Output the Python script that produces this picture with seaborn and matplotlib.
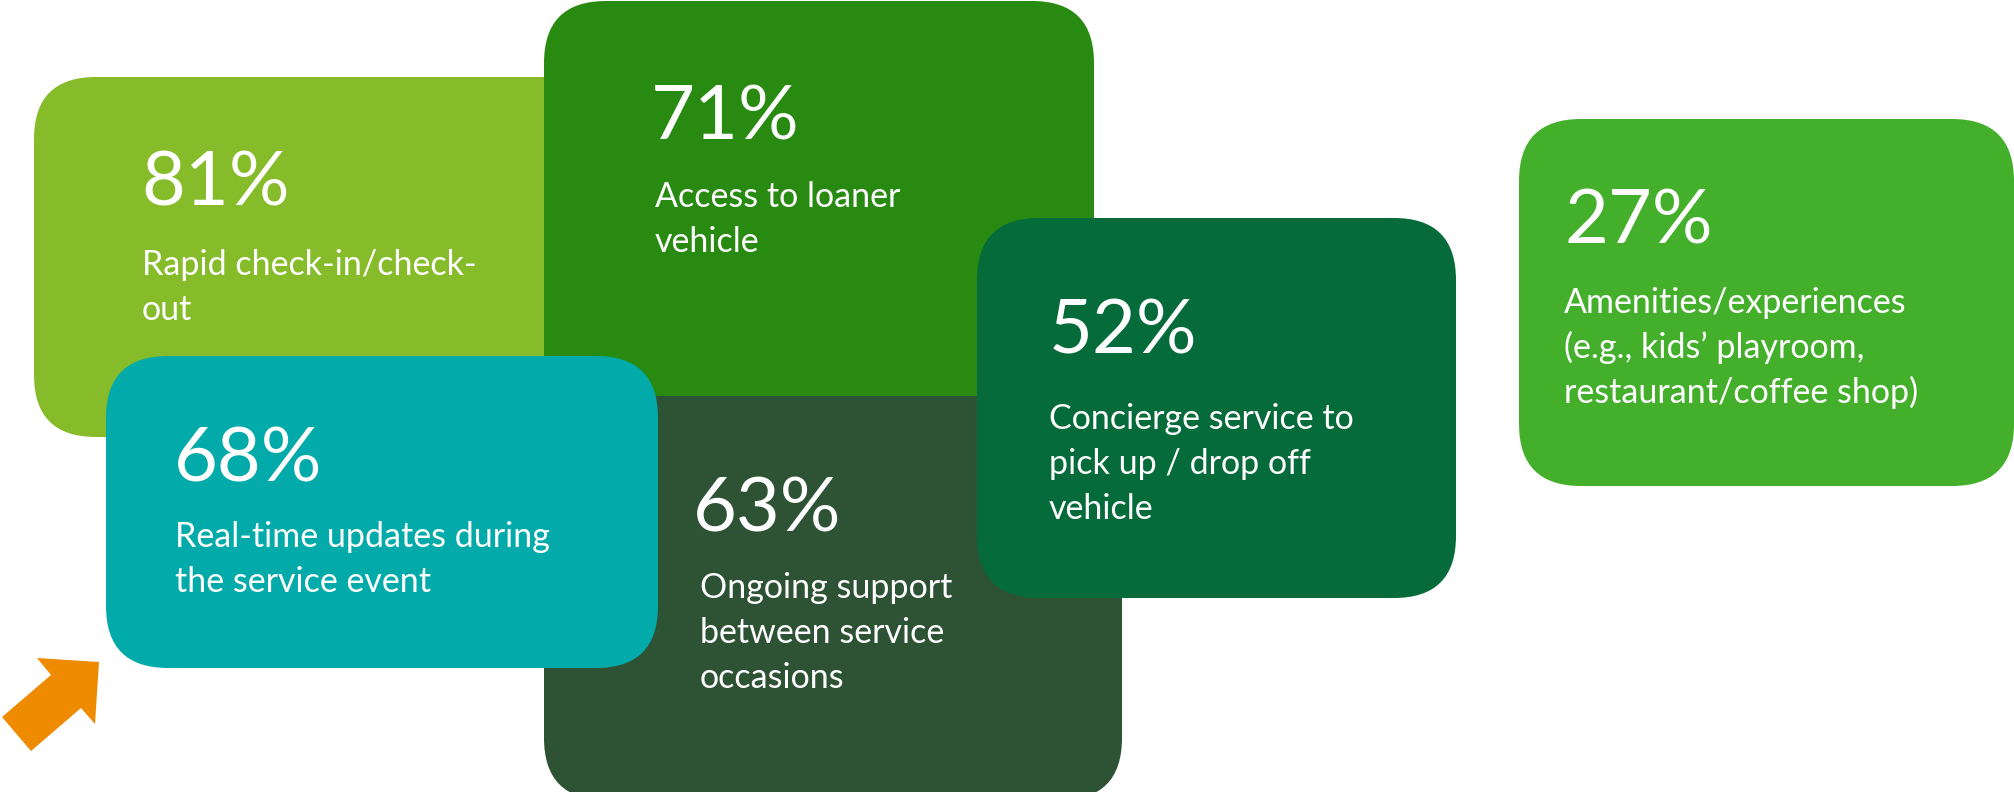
import matplotlib
matplotlib.use("Agg")
import matplotlib.pyplot as plt
from matplotlib.patches import FancyBboxPatch, Polygon
import seaborn as sns

# Survey results: share of respondents valuing each service feature
values = [81, 71, 63, 68, 52, 27]
labels = [
    ["Rapid check-in/check-", "out"],
    ["Access to loaner", "vehicle"],
    ["Ongoing support", "between service", "occasions"],
    ["Real-time updates during", "the service event"],
    ["Concierge service to", "pick up / drop off", "vehicle"],
    ["Amenities/experiences", "(e.g., kids\u2019 playroom,", "restaurant/coffee shop)"],
]
colors = ["#86BC29", "#288A10", "#2D5234", "#03AAAA", "#056B3A", "#43AF2B"]

# Tile geometry in pixel space: left, top, right, bottom (drawn in this order)
tiles = [
    (34, 77, 700, 437),
    (544, 1, 1094, 420),
    (544, 396, 1122, 800),
    (106, 356, 658, 668),
    (977, 218, 1456, 598),
    (1519, 119, 2014, 486),
]
# Left edge and baseline of the percentage, then baseline of the first label line
text_pos = [
    (141, 205, 142, 275),
    (651, 139, 655, 207),
    (693, 531, 700, 598),
    (174, 481, 175, 547),
    (1049, 353, 1049, 429),
    (1565, 244, 1564, 313),
]
LINE_STEP = 45
RADIUS = 62

sns.set_theme(style="white")
plt.rcParams["font.family"] = ["Lato", "DejaVu Sans"]

W, H = 2015, 792
fig = plt.figure(figsize=(W / 100, H / 100), dpi=100)
ax = fig.add_axes([0, 0, 1, 1])
ax.set_xlim(0, W)
ax.set_ylim(H, 0)
ax.axis("off")

for (x0, y0, x1, y1), col in zip(tiles, colors):
    ax.add_patch(FancyBboxPatch(
        (x0, y0), x1 - x0, y1 - y0,
        boxstyle=f"round,pad=0,rounding_size={RADIUS}",
        facecolor=col, edgecolor="none", zorder=1))

for v, lines, (px, py, lx, ly) in zip(values, labels, text_pos):
    ax.text(px, py, f"{v}%", color="white", fontsize=54.5,
            ha="left", va="baseline", zorder=3)
    for i, line in enumerate(lines):
        ax.text(lx, ly + i * LINE_STEP, line, color="white", fontsize=24.5,
                ha="left", va="baseline", zorder=3)

# Orange pointer arrow in the lower-left corner
arrow = [(2, 717), (51, 675), (37, 658), (99, 662), (95, 724), (81, 708), (31, 751)]
ax.add_patch(Polygon(arrow, closed=True, facecolor="#EE8B00", edgecolor="none", zorder=2))

fig.savefig("out.png", dpi=100, facecolor="white")
